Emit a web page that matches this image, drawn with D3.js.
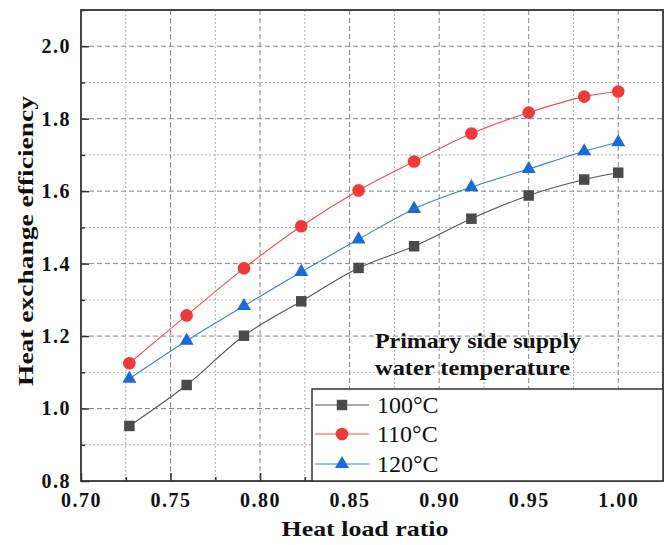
<!DOCTYPE html>
<html>
<head>
<meta charset="utf-8">
<script src="https://cdn.jsdelivr.net/npm/d3@7"></script>
<style>
  body { margin: 0; background: #fff; }
  svg { display: block; }
</style>
</head>
<body>
<svg id="chart" width="671" height="545"></svg>
<script>
// heat load ratio on x, heat exchange efficiency on y
const loadRatio = [0.727, 0.759, 0.791, 0.823, 0.855, 0.886, 0.918, 0.950, 0.981, 1.000];
const eff100 = [0.952, 1.065, 1.201, 1.296, 1.388, 1.448, 1.524, 1.588, 1.632, 1.651];
const eff110 = [1.125, 1.257, 1.387, 1.503, 1.602, 1.682, 1.759, 1.817, 1.861, 1.875];
const eff120 = [1.082, 1.187, 1.283, 1.377, 1.467, 1.551, 1.611, 1.661, 1.710, 1.735];
const seriesNames = ['100°C', '110°C', '120°C'];
const xTicks = [0.70, 0.75, 0.80, 0.85, 0.90, 0.95, 1.00];
const yTicks = [0.8, 1.0, 1.2, 1.4, 1.6, 1.8, 2.0];
const legendTitle = ['Primary side supply', 'water temperature'];

// plot box (window.top is taken, so no bare "top")
let pL = 81, pR = 663, pT = 10, pB = 481;
const fontFam = '"Liberation Serif", "Times New Roman", serif';

const svg = d3.select('#chart');

const x = d3.scaleLinear().domain([0.70, 1.025]).range([pL, pR]);
const y = d3.scaleLinear().domain([0.8, 2.1]).range([pB, pT]);

// grid: minor dotted, major dashed
const xMinor = d3.range(0.725, 1.02, 0.05);
const yMinor = d3.range(0.9, 2.1, 0.2);
const grid = svg.append('g');
grid.selectAll('line.xmin').data(xMinor).enter().append('line')
    .attr('x1', d => x(d)).attr('x2', d => x(d)).attr('y1', pT).attr('y2', pB)
    .attr('stroke', '#b0b0b0').attr('stroke-width', 1).attr('stroke-dasharray', '2,2');
grid.selectAll('line.ymin').data(yMinor).enter().append('line')
    .attr('x1', pL).attr('x2', pR).attr('y1', d => y(d)).attr('y2', d => y(d))
    .attr('stroke', '#b0b0b0').attr('stroke-width', 1).attr('stroke-dasharray', '2,2');
grid.selectAll('line.xmaj').data(xTicks.slice(1)).enter().append('line')
    .attr('x1', d => x(d)).attr('x2', d => x(d)).attr('y1', pT).attr('y2', pB)
    .attr('stroke', '#858585').attr('stroke-width', 1).attr('stroke-dasharray', '5,3');
grid.selectAll('line.ymaj').data(yTicks.slice(1)).enter().append('line')
    .attr('x1', pL).attr('x2', pR).attr('y1', d => y(d)).attr('y2', d => y(d))
    .attr('stroke', '#858585').attr('stroke-width', 1).attr('stroke-dasharray', '5,3');

// axes with inward ticks
const xAxis = svg.append('g').attr('transform', `translate(0,${pB})`)
    .call(d3.axisBottom(x).tickValues(xTicks).tickSize(-8).tickPadding(12).tickFormat(d3.format('.2f')));
const yAxis = svg.append('g').attr('transform', `translate(${pL},0)`)
    .call(d3.axisLeft(y).tickValues(yTicks).tickSize(-8).tickPadding(10).tickFormat(d3.format('.1f')));
svg.append('g').attr('transform', `translate(0,${pB})`)
    .call(d3.axisBottom(x).tickValues(xMinor).tickSize(-4).tickFormat(''));
svg.append('g').attr('transform', `translate(${pL},0)`)
    .call(d3.axisLeft(y).tickValues(yMinor).tickSize(-4).tickFormat(''));
svg.selectAll('.domain').remove();
svg.selectAll('.tick line').attr('stroke', '#333').attr('stroke-width', 1.5);
[xAxis, yAxis].forEach(a => a.selectAll('text')
    .attr('font-family', fontFam).attr('font-weight', 'bold')
    .attr('font-size', 20).attr('letter-spacing', 1.5).attr('fill', '#111'));

// frame
svg.append('rect').attr('x', pL).attr('y', pT)
    .attr('width', pR - pL).attr('height', pB - pT)
    .attr('fill', 'none').attr('stroke', '#333').attr('stroke-width', 1.8);

const series = [
    { name: seriesNames[0], values: eff100, line: '#555', fill: '#4a4a4a', shape: d3.symbolSquare, size: 110 },
    { name: seriesNames[1], values: eff110, line: '#f34e4e', fill: '#f03a3a', shape: d3.symbolCircle, size: 125 },
    { name: seriesNames[2], values: eff120, line: '#3184e2', fill: '#1a6bd8', shape: d3.symbolTriangle, size: 85 }
];

const lineGen = d3.line()
    .x(d => x(d[0])).y(d => y(d[1]))
    .curve(d3.curveCatmullRom);

series.forEach(s => {
    const pts = loadRatio.map((v, i) => [v, s.values[i]]);
    svg.append('path').datum(pts)
        .attr('d', lineGen)
        .attr('fill', 'none').attr('stroke', s.line).attr('stroke-width', 1.1);
    svg.selectAll(null).data(pts).enter().append('path')
        .attr('transform', d => `translate(${x(d[0])},${y(d[1])})`)
        .attr('d', d3.symbol().type(s.shape).size(s.size))
        .attr('fill', s.fill);
});

// legend title, sits over the grid
const titleW = [206, 195];
svg.append('g').selectAll('text').data(legendTitle).enter().append('text')
    .attr('x', 375).attr('y', (d, i) => 348 + i * 27)
    .attr('font-family', fontFam).attr('font-weight', 'bold').attr('font-size', 21)
    .attr('textLength', (d, i) => titleW[i]).attr('lengthAdjust', 'spacingAndGlyphs')
    .attr('fill', '#111').text(d => d);

// legend box
const lgTop = 389;
svg.append('rect').attr('x', 312).attr('y', lgTop)
    .attr('width', pR - 312).attr('height', pB - lgTop)
    .attr('fill', '#fff').attr('stroke', '#333').attr('stroke-width', 1.5);
const rowY = [405, 434, 464];
series.forEach((s, i) => {
    const g = svg.append('g');
    g.append('line').attr('x1', 315).attr('x2', 369).attr('y1', rowY[i]).attr('y2', rowY[i])
        .attr('stroke', s.line).attr('stroke-width', 1.1);
    g.append('path').attr('transform', `translate(342,${rowY[i]})`)
        .attr('d', d3.symbol().type(s.shape).size(s.size)).attr('fill', s.fill);
    g.append('text').attr('x', 377).attr('y', rowY[i] + 8)
        .attr('font-family', fontFam).attr('font-size', 24).attr('fill', '#111')
        .text(s.name);
});

// axis titles
svg.append('text').attr('x', 365).attr('y', 536)
    .attr('text-anchor', 'middle')
    .attr('font-family', fontFam).attr('font-weight', 'bold').attr('font-size', 22)
    .attr('textLength', 167).attr('lengthAdjust', 'spacingAndGlyphs')
    .attr('fill', '#111').text('Heat load ratio');
svg.append('text')
    .attr('transform', `translate(33,241) rotate(-90)`)
    .attr('text-anchor', 'middle')
    .attr('font-family', fontFam).attr('font-weight', 'bold').attr('font-size', 22)
    .attr('textLength', 290).attr('lengthAdjust', 'spacingAndGlyphs')
    .attr('fill', '#111').text('Heat exchange efficiency');
</script>
</body>
</html>
